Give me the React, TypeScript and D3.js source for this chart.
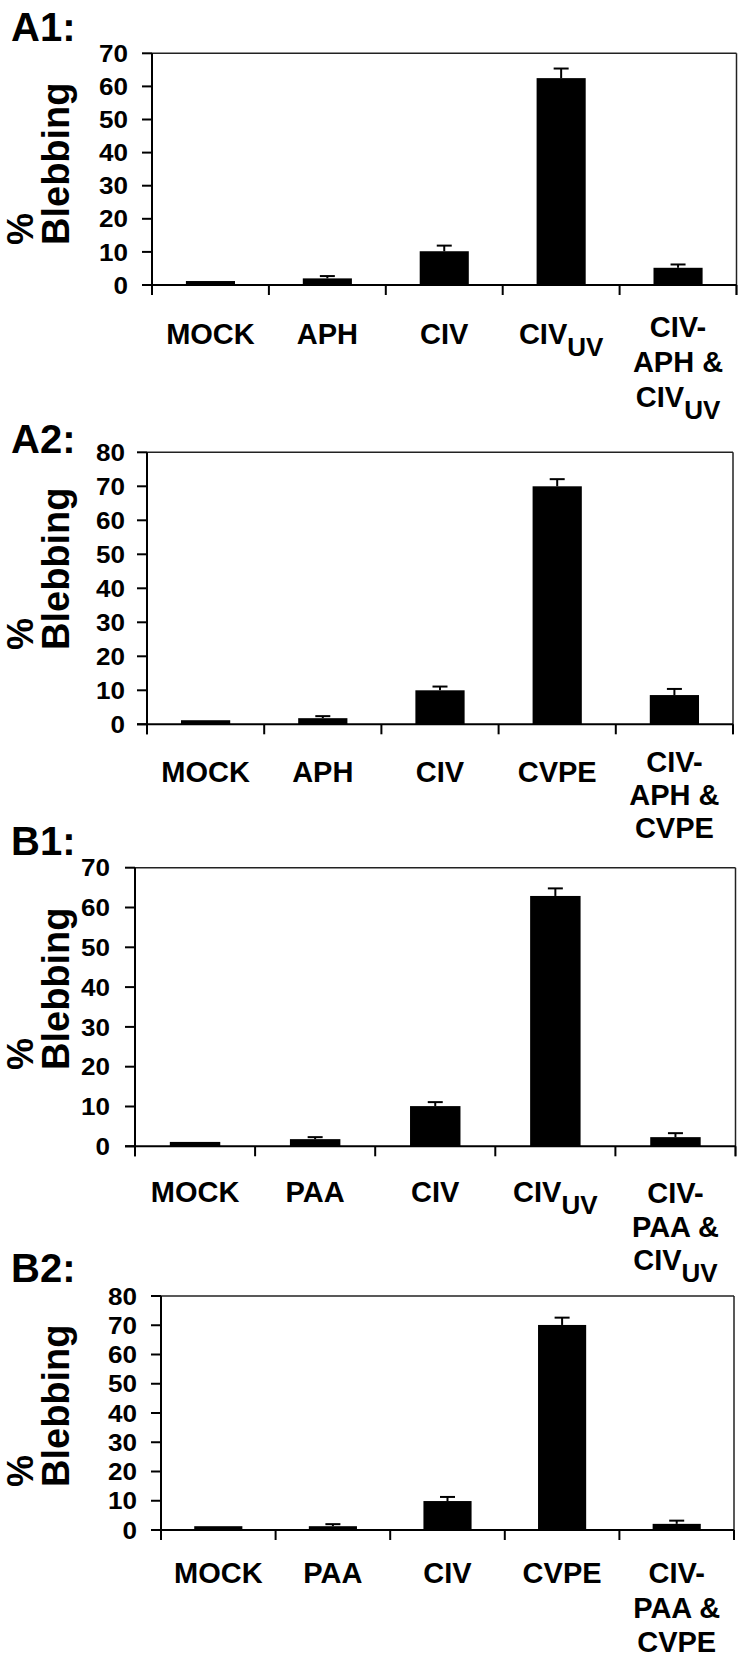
import React from 'react'
import * as d3 from 'd3'

// "|" splits a label line into main text and subscript
const labelsA1 = [['MOCK'], ['APH'], ['CIV'], ['CIV|UV'], ['CIV-', 'APH &', 'CIV|UV']]
const valuesA1 = [1.2, 2.0, 10.2, 62.5, 5.2]
const errorsA1 = [0, 0.7, 1.7, 2.9, 1.0]

const labelsA2 = [['MOCK'], ['APH'], ['CIV'], ['CVPE'], ['CIV-', 'APH &', 'CVPE']]
const valuesA2 = [1.2, 1.8, 10.0, 70.0, 8.6]
const errorsA2 = [0, 0.6, 1.1, 2.1, 1.8]

const labelsB1 = [['MOCK'], ['PAA'], ['CIV'], ['CIV|UV'], ['CIV-', 'PAA &', 'CIV|UV']]
const valuesB1 = [1.1, 1.8, 10.1, 62.9, 2.3]
const errorsB1 = [0, 0.5, 1.0, 1.9, 1.0]

const labelsB2 = [['MOCK'], ['PAA'], ['CIV'], ['CVPE'], ['CIV-', 'PAA &', 'CVPE']]
const valuesB2 = [1.3, 1.3, 9.9, 70.1, 2.1]
const errorsB2 = [0, 0.7, 1.4, 2.5, 1.1]

const ticks70 = [0, 10, 20, 30, 40, 50, 60, 70]
const ticks80 = [0, 10, 20, 30, 40, 50, 60, 70, 80]

const FONT = "'Liberation Sans', Arial, Helvetica, sans-serif"

const panels = [
  {title: 'A1:', labels: labelsA1, values: valuesA1, errors: errorsA1, ticks: ticks70,
    titleY: 41, x0: 152, x1: 736.5, yTop: 53.3, yZero: 285, tickRight: 128,
    axisTitleY: 245, labelY: 344, multiY: 337, lineGap: 35},
  {title: 'A2:', labels: labelsA2, values: valuesA2, errors: errorsA2, ticks: ticks80,
    titleY: 453, x0: 147, x1: 733, yTop: 452.3, yZero: 724.3, tickRight: 125,
    axisTitleY: 650, labelY: 782, multiY: 772, lineGap: 33},
  {title: 'B1:', labels: labelsB1, values: valuesB1, errors: errorsB1, ticks: ticks70,
    titleY: 855, x0: 135, x1: 735.5, yTop: 867.7, yZero: 1146.3, tickRight: 110,
    axisTitleY: 1070, labelY: 1202, multiY: 1203, lineGap: 33.5},
  {title: 'B2:', labels: labelsB2, values: valuesB2, errors: errorsB2, ticks: ticks80,
    titleY: 1282, x0: 161, x1: 734, yTop: 1296, yZero: 1530, tickRight: 137,
    axisTitleY: 1487, labelY: 1583, multiY: 1583, lineGap: 34.5}
]

function LabelLine({text, x, y}) {
  const [main, sub] = text.split('|')
  return (
    <text x={x} y={y} textAnchor="middle" fontSize={29} fontWeight="bold" fontFamily={FONT}>
      {main}
      {sub && <tspan fontSize={26} dy={12}>{sub}</tspan>}
    </text>
  )
}

function Panel({p}) {
  const n = p.values.length
  const x = d3
    .scaleBand()
    .domain(d3.range(n))
    .range([p.x0, p.x1])
    .paddingInner(0.58)
    .paddingOuter(0.29)
  const yMax = d3.max(p.ticks)
  const y = d3
    .scaleLinear()
    .domain([0, yMax])
    .range([p.yZero, p.yTop])
  const step = x.step()
  const capW = 15

  return (
    <g>
      <text x={11} y={p.titleY} fontSize={40} fontWeight="bold" fontFamily={FONT}>
        {p.title}
      </text>

      <text transform="rotate(-90)" fontWeight="bold" fontFamily={FONT}>
        <tspan x={-p.axisTitleY} y={33} fontSize={36}>%</tspan>
        <tspan x={-p.axisTitleY} y={69} fontSize={38}>Blebbing</tspan>
      </text>

      {/* frame */}
      <line x1={p.x0} x2={p.x1} y1={y(yMax)} y2={y(yMax)} stroke="#222" strokeWidth={1.5} />
      <line x1={p.x1} x2={p.x1} y1={y(yMax)} y2={p.yZero + 10} stroke="#222" strokeWidth={1.5} />
      <line x1={p.x0} x2={p.x0} y1={y(yMax)} y2={p.yZero + 10} stroke="#000" strokeWidth={2} />
      <line x1={p.x0 - 10} x2={p.x1} y1={p.yZero} y2={p.yZero} stroke="#000" strokeWidth={2} />

      {p.ticks.map(t => (
        <g key={t}>
          <line x1={p.x0 - 10} x2={p.x0} y1={y(t)} y2={y(t)} stroke="#000" strokeWidth={2} />
          <text
            x={p.tickRight}
            y={y(t)}
            dy="0.36em"
            textAnchor="end"
            fontSize={24}
            fontWeight="bold"
            fontFamily={FONT}
            textLength={String(t).length * 14.5}
            lengthAdjust="spacingAndGlyphs"
          >
            {t}
          </text>
        </g>
      ))}

      {d3.range(n + 1).map(i => (
        <line key={i} x1={p.x0 + i * step} x2={p.x0 + i * step} y1={p.yZero} y2={p.yZero + 10} stroke="#000" strokeWidth={2} />
      ))}

      {p.values.map((v, i) => {
        const cx = x(i) + x.bandwidth() / 2
        return (
          <g key={i}>
            <rect x={x(i)} y={y(v)} width={x.bandwidth()} height={p.yZero - y(v)} fill="#000" />
            {p.errors[i] > 0 && (
              <g stroke="#000" strokeWidth={2}>
                <line x1={cx} x2={cx} y1={y(v)} y2={y(v + p.errors[i])} />
                <line x1={cx - capW / 2} x2={cx + capW / 2} y1={y(v + p.errors[i])} y2={y(v + p.errors[i])} />
              </g>
            )}
          </g>
        )
      })}

      {p.labels.map((lines, i) => {
        const cx = x(i) + x.bandwidth() / 2
        const base = lines.length > 1 ? p.multiY : p.labelY
        return lines.map((ln, j) => (
          <LabelLine key={i + '-' + j} text={ln} x={cx} y={base + j * p.lineGap} />
        ))
      })}
    </g>
  )
}

export default function App() {
  return (
    <svg
      width={738}
      height={1657}
      style={{position: 'absolute', left: 0, top: 0, background: '#fff'}}
    >
      <rect width={738} height={1657} fill="#fff" />
      {panels.map(p => (
        <Panel key={p.title} p={p} />
      ))}
    </svg>
  )
}
